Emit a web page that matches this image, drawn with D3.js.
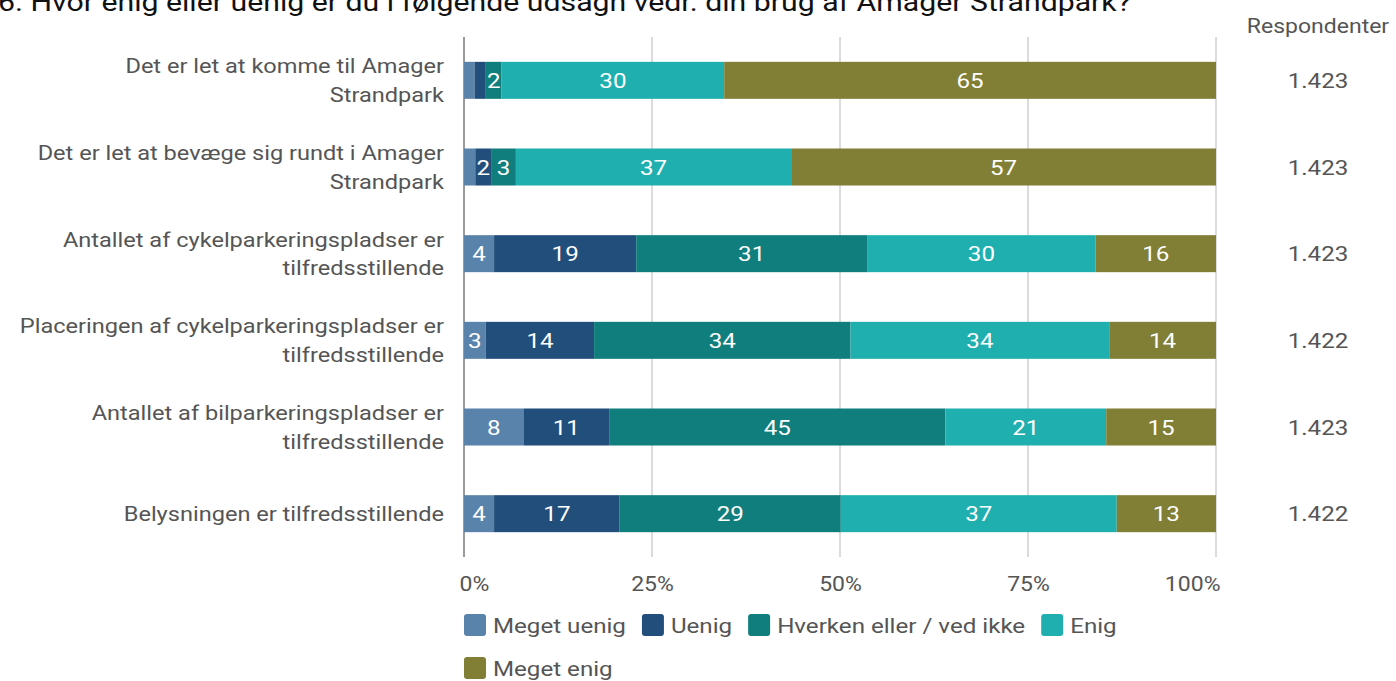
<!DOCTYPE html>
<html>
<head>
<meta charset="utf-8">
<script src="https://cdn.jsdelivr.net/npm/d3@7"></script>
<style>
  body { margin: 0; background: #fff; }
  svg { display: block; font-family: Roboto, "Noto Sans", sans-serif; }
</style>
</head>
<body>
<div id="container"></div>
<script>
/* DATA */
const title = "6. Hvor enig eller uenig er du i følgende udsagn vedr. din brug af Amager Strandpark?"
const questions = [
  ["Det er let at komme til Amager", "Strandpark"],
  ["Det er let at bevæge sig rundt i Amager", "Strandpark"],
  ["Antallet af cykelparkeringspladser er", "tilfredsstillende"],
  ["Placeringen af cykelparkeringspladser er", "tilfredsstillende"],
  ["Antallet af bilparkeringspladser er", "tilfredsstillende"],
  ["Belysningen er tilfredsstillende"]
]
const answers = ["Meget uenig", "Uenig", "Hverken eller / ved ikke", "Enig", "Meget enig"]
const meget_uenig = [1.4, 1.5, 4.0, 2.9, 7.9, 4.0]
const uenig       = [1.5, 2.1, 18.9, 14.4, 11.4, 16.7]
const hverken     = [2.1, 3.3, 30.7, 34.1, 44.7, 29.4]
const enig        = [29.6, 36.6, 30.4, 34.4, 21.4, 36.7]
const meget_enig  = [65.4, 56.5, 16.0, 14.2, 14.6, 13.2]
const respondents = ["1.423", "1.423", "1.423", "1.422", "1.423", "1.422"]
const ticks = [0, 25, 50, 75, 100]

/* CONSTANTS */
const width = 1396, height = 681
const margin = {top: 37, bottom: 124, left: 464, right: 180}
const colors = ["#5a83ab", "#224e7b", "#0f7e7c", "#20afaf", "#807f35"]
const sx = 1.15   // the source text is drawn a bit wider than plain Roboto

const rows = questions.map((q, i) => ({
  id: i, lines: q, n: respondents[i],
  vals: [meget_uenig[i], uenig[i], hverken[i], enig[i], meget_enig[i]]
}))

const svg = d3.select("#container").append("svg")
  .attr("width", width).attr("height", height)

// place a text with a horizontal stretch around its anchor point
const at = (x, y) => `translate(${x},${y}) scale(${sx},1)`

/* SCALES */
const xScale = d3.scaleLinear().domain([0, 100]).range([margin.left, width - margin.right])
const yScale = d3.scaleBand().domain(rows.map(d => d.id))
  .range([margin.top, height - margin.bottom]).padding(0)
const barH = 37
const mid = id => yScale(id) + yScale.bandwidth() / 2

// title (partly cut off at the top, as in the source)
svg.append("text").attr("transform", at(-2, 11))
  .attr("font-size", 26.3).attr("fill", "#111").text(title)

// gridlines
svg.append("g").selectAll("line").data(ticks).join("line")
  .attr("x1", d => xScale(d)).attr("x2", d => xScale(d))
  .attr("y1", margin.top).attr("y2", height - margin.bottom)
  .attr("stroke", d => d === 0 ? "#9a9a9a" : "#b8b8b8")
  .attr("stroke-width", d => d === 0 ? 2 : 1)

// x axis tick labels
const xAxis = d3.axisBottom(xScale).tickValues(ticks).tickFormat(d => d + "%").tickSize(0).tickPadding(0)
const gx = svg.append("g").attr("transform", `translate(0, 577)`).call(xAxis)
gx.select(".domain").remove()
gx.selectAll("text").attr("font-size", 20).attr("fill", "#555").attr("font-family", "Roboto, sans-serif")
  .attr("y", null).attr("dy", "0.7em")
  .attr("text-anchor", d => d === 0 ? "start" : d === 100 ? "end" : "middle")
  .attr("transform", d => at(d === 0 ? -5 : d === 100 ? 4 : 0, 0))

// stacked segments
const stack = d3.stack().keys(d3.range(answers.length)).value((d, k) => d.vals[k])
const series = stack(rows)

const groups = svg.append("g").selectAll("g").data(series).join("g")
  .attr("fill", (s, k) => colors[k])

groups.selectAll("rect").data(s => s).join("rect")
  .attr("x", d => xScale(d[0]))
  .attr("width", d => xScale(d[1]) - xScale(d[0]))
  .attr("y", d => mid(d.data.id) - barH / 2)
  .attr("height", barH)

groups.selectAll("text").data(s => s.filter(d => xScale(d[1]) - xScale(d[0]) >= 13)).join("text")
  .attr("transform", d => at((xScale(d[0]) + xScale(d[1])) / 2, mid(d.data.id)))
  .attr("dy", "0.36em")
  .attr("text-anchor", "middle")
  .attr("font-size", 21).attr("fill", "#fff")
  .text(d => Math.round(d[1] - d[0]))

// category labels
const yl = svg.append("g").selectAll("text").data(rows).join("text")
  .attr("text-anchor", "end").attr("font-size", 20.5).attr("fill", "#555")
  .attr("transform", d => at(444, mid(d.id)))
yl.selectAll("tspan").data(d => d.lines.map((l, j) => ({l, j, n: d.lines.length}))).join("tspan")
  .attr("x", 0)
  .attr("dy", d => d.j === 0 ? (d.n === 1 ? "0.36em" : "-0.35em") : "1.4em")
  .text(d => d.l)

// respondents column
svg.append("text").attr("transform", at(1318, 26)).attr("dy", "0.36em")
  .attr("text-anchor", "middle").attr("font-size", 20).attr("fill", "#555").text("Respondenter")
svg.append("g").selectAll("text").data(rows).join("text")
  .attr("transform", d => at(1318, mid(d.id))).attr("dy", "0.36em")
  .attr("text-anchor", "middle").attr("font-size", 21).attr("fill", "#555").text(d => d.n)

// legend
const legend = svg.append("g")
let lx = 464, ly = 625
answers.forEach((a, k) => {
  const g = legend.append("g")
  g.append("rect").attr("width", 22).attr("height", 22).attr("rx", 3).attr("fill", colors[k])
  const t = g.append("text").attr("transform", at(29, 11)).attr("dy", "0.36em")
    .attr("font-size", 21).attr("fill", "#555").text(a)
  const w = 29 + t.node().getComputedTextLength() * sx
  if (lx + w > 1230) { lx = 464; ly += 43 }
  g.attr("transform", `translate(${lx}, ${ly - 11})`)
  lx += w + 16
})
</script>
</body>
</html>
